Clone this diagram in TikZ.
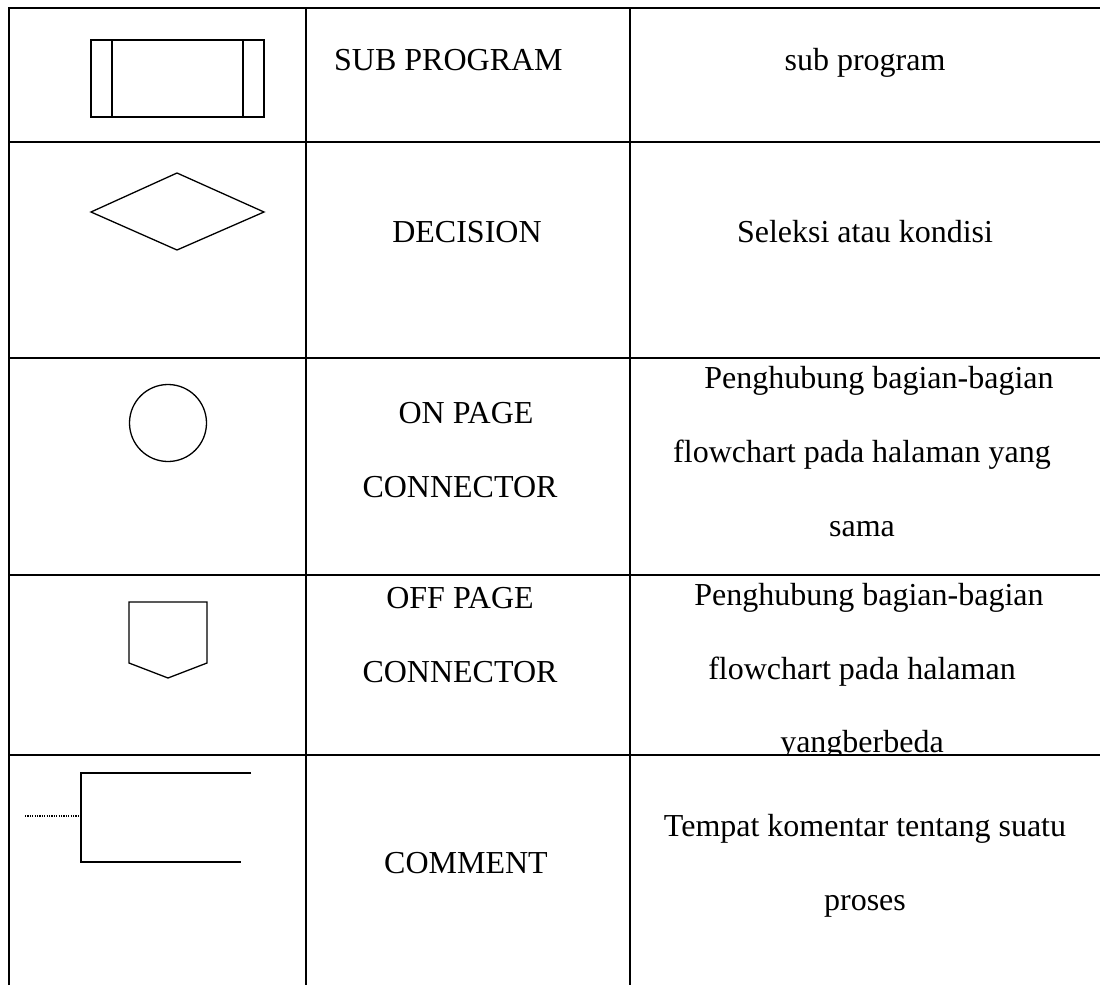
\documentclass[tikz,border=0pt]{standalone}
\usepackage{fontspec}
\setmainfont{Liberation Serif}
\usepackage{tikz}
\usetikzlibrary{positioning}

\begin{document}
\begin{tikzpicture}[x=1pt,y=-1pt,
  font=\fontsize{32}{38}\selectfont,
  txt/.style={anchor=base,inner sep=0pt},
  rule/.style={line width=1.8pt},
  sym/.style={line width=1.3pt,line join=miter}]
\useasboundingbox (0,0) rectangle (1100,985);
% table
\draw[rule] (9,985) -- (9,8) -- (1100,8);
\draw[rule] (306,8) -- (306,985);
\draw[rule] (630,8) -- (630,985);
\foreach \y in {142,358,575,755}
  \draw[rule] (9,\y) -- (1100,\y);
% symbols
\draw[sym] (91,40) rectangle (264,117);
\draw[sym] (112,40) -- (112,117) (243,40) -- (243,117);
\draw[sym] (91,212) -- (177,173) -- (264,212) -- (177,250) -- cycle;
\draw[sym] (168,423) circle (38.5);
\draw[sym] (129,602) -- (207,602) -- (207,663) -- (168,678) -- (129,663) -- cycle;
\draw[sym] (251,773) -- (81,773) -- (81,862) -- (241,862);
\draw[line width=1.2pt,dash pattern=on 1.2pt off 1.2pt] (25,816) -- (81,816);
% names
\node[txt,anchor=base west] (sub) at (334,70) {SUB PROGRAM};
\node[txt] (dec) at (467,242) {DECISION};
\node[txt] (on1) at (466,423) {ON PAGE};
\node[txt] (on2) at (460,497) {CONNECTOR};
\node[txt] (off1) at (460,608) {OFF PAGE};
\node[txt] (off2) at (460,682) {CONNECTOR};
\node[txt] (com) at (466,873) {COMMENT};
% descriptions
\node[txt] (subd) at (865,70) {sub program};
\node[txt] (decd) at (865,242) {Seleksi atau kondisi};
\node[txt] (ond1) at (879,388) {Penghubung bagian-bagian};
\node[txt] (ond2) at (862,462) {flowchart pada halaman yang};
\node[txt] (ond3) at (862,536) {sama};
\node[txt] (offd1) at (869,605) {Penghubung bagian-bagian};
\node[txt] (offd2) at (862,679) {flowchart pada halaman};
\begin{scope}
\clip (630,575) rectangle (1100,754);
\node[txt] (offd3) at (862,752) {yangberbeda};
\end{scope}
\node[txt] (comd1) at (865,836) {Tempat komentar tentang suatu};
\node[txt] (comd2) at (865,910) {proses};
\end{tikzpicture}
\end{document}
